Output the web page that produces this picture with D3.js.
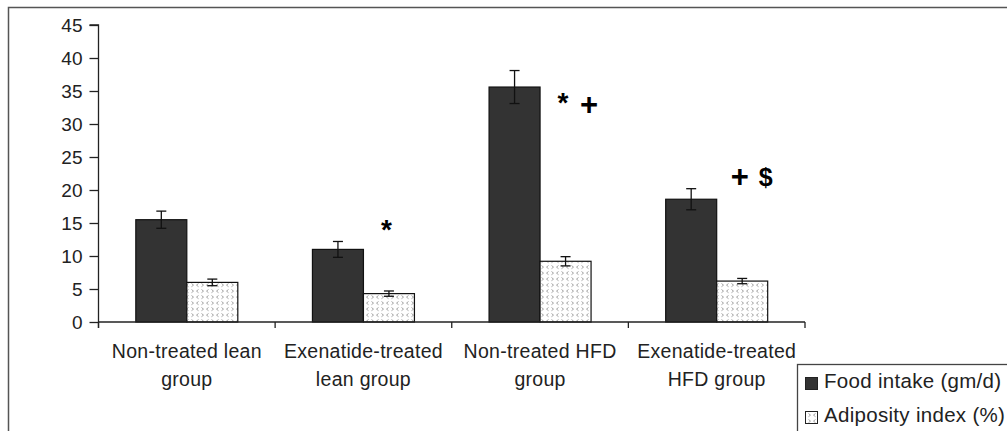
<!DOCTYPE html>
<html>
<head>
<meta charset="utf-8">
<script src="https://cdn.jsdelivr.net/npm/d3@7/dist/d3.min.js"></script>
<style>
  html, body { margin: 0; padding: 0; background: #fff; }
  svg { display: block; font-family: "Liberation Sans", Arial, sans-serif; }
</style>
</head>
<body>
<svg id="chart" width="1007" height="431"></svg>
<script>
// Groups (two-line labels)
const groups = [
  ["Non-treated lean", "group"],
  ["Exenatide-treated", "lean group"],
  ["Non-treated HFD", "group"],
  ["Exenatide-treated", "HFD group"]
];
const seriesNames = ["Food intake (gm/d)", "Adiposity index (%)"];
const foodIntake = [15.5, 11.0, 35.6, 18.6];
const foodIntakeSE = [1.3, 1.2, 2.5, 1.6];
const adiposity = [6.0, 4.3, 9.2, 6.2];
const adipositySE = [0.5, 0.4, 0.7, 0.4];
const yTicks = [0, 5, 10, 15, 20, 25, 30, 35, 40, 45];
// significance marks: group index, symbol, level in data units, slot beside the bars
const marks = [
  { g: 1, text: "*", level: 15.0, slot: 0 },
  { g: 2, text: "*", level: 34.2, slot: 0 },
  { g: 2, text: "+", level: 33.0, slot: 1 },
  { g: 3, text: "+", level: 22.0, slot: 0 },
  { g: 3, text: "$", level: 22.0, slot: 1 }
];

const svg = d3.select("#chart");

// outer frame
svg.append("rect")
  .attr("x", 8.5).attr("y", 7.5)
  .attr("width", 1010).attr("height", 440)
  .attr("fill", "none").attr("stroke", "#555").attr("stroke-width", 1.5);

// chevron fill for the adiposity bars: columns of ">" and "<"
const defs = svg.append("defs");
const pat = defs.append("pattern")
  .attr("id", "chev").attr("patternUnits", "userSpaceOnUse")
  .attr("width", 10).attr("height", 12);
pat.append("rect").attr("width", 10).attr("height", 12).attr("fill", "#fff");
const chev = (cx, cy, dir) => `M${cx},${cy} l${2 * dir},1.6 l${-2 * dir},1.6`;
pat.append("path")
  .attr("d", chev(1.5, 1.5, 1) + chev(8.5, 1.5, -1) + chev(1.5, 7.5, 1) + chev(8.5, 7.5, -1))
  .attr("fill", "none").attr("stroke", "#9a9a9a").attr("stroke-width", 0.9);

const x0 = 98.5, x1 = 805, yTop = 25, yBot = 322;
const x = d3.scaleBand().domain(d3.range(groups.length)).range([x0, x1]);
const y = d3.scaleLinear().domain([0, 45]).range([yBot, yTop]);
const barW = 51;

const series = [
  { vals: foodIntake, se: foodIntakeSE, fill: "#333333", off: -barW },
  { vals: adiposity, se: adipositySE, fill: "url(#chev)", off: 0 }
];

const plot = svg.append("g");

series.forEach(s => {
  const cx = i => x(i) + x.bandwidth() / 2 + s.off;
  plot.selectAll(null).data(s.vals).enter().append("rect")
    .attr("x", (d, i) => cx(i))
    .attr("y", d => y(d))
    .attr("width", barW)
    .attr("height", d => y(0) - y(d))
    .attr("fill", s.fill)
    .attr("stroke", "#111").attr("stroke-width", 1.2);

  // error bars
  const eb = plot.selectAll(null).data(s.vals).enter().append("g")
    .attr("stroke", "#111").attr("stroke-width", 1.3);
  eb.append("line")
    .attr("x1", (d, i) => cx(i) + barW / 2).attr("x2", (d, i) => cx(i) + barW / 2)
    .attr("y1", (d, i) => y(d + s.se[i])).attr("y2", (d, i) => y(d - s.se[i]));
  eb.append("line")
    .attr("x1", (d, i) => cx(i) + barW / 2 - 5).attr("x2", (d, i) => cx(i) + barW / 2 + 5)
    .attr("y1", (d, i) => y(d + s.se[i])).attr("y2", (d, i) => y(d + s.se[i]));
  eb.append("line")
    .attr("x1", (d, i) => cx(i) + barW / 2 - 5).attr("x2", (d, i) => cx(i) + barW / 2 + 5)
    .attr("y1", (d, i) => y(d - s.se[i])).attr("y2", (d, i) => y(d - s.se[i]));
});

// y axis
const yAxis = d3.axisLeft(y).tickValues(yTicks).tickSize(9).tickPadding(7);
const ya = svg.append("g").attr("transform", `translate(${x0},0)`).call(yAxis);
ya.select(".domain").attr("d", `M-9,${yTop}H0V${yBot + 6}`).attr("stroke", "#222").attr("stroke-width", 1.3);
ya.selectAll(".tick line").attr("stroke", "#222").attr("stroke-width", 1.3);
ya.selectAll(".tick text").attr("font-size", 19).attr("fill", "#222")
  .attr("font-family", "Liberation Sans, Arial, sans-serif");

// x axis with ticks on the group boundaries
const xa = svg.append("g");
xa.append("line").attr("x1", x0).attr("x2", x1).attr("y1", yBot).attr("y2", yBot)
  .attr("stroke", "#222").attr("stroke-width", 1.3);
const bounds = d3.range(groups.length + 1).map(i => i < groups.length ? x(i) : x1);
xa.selectAll(null).data(bounds).enter().append("line")
  .attr("x1", d => d).attr("x2", d => d).attr("y1", yBot).attr("y2", yBot + 6)
  .attr("stroke", "#222").attr("stroke-width", 1.3);
const lbl = xa.selectAll(null).data(groups).enter().append("text")
  .attr("text-anchor", "middle").attr("font-size", 19.5).attr("fill", "#222")
  .attr("letter-spacing", 0.3)
  .attr("transform", (d, i) => `translate(${x(i) + x.bandwidth() / 2},0)`);
lbl.append("tspan").attr("x", 0).attr("y", 358).text(d => d[0]);
lbl.append("tspan").attr("x", 0).attr("y", 386).text(d => d[1]);

// significance marks
svg.selectAll(null).data(marks).enter().append("text")
  .attr("x", d => x(d.g) + x.bandwidth() / 2 + 23 + d.slot * 26)
  .attr("y", d => y(d.level))
  .attr("text-anchor", "middle").attr("dominant-baseline", "central")
  .attr("font-weight", "bold")
  .attr("font-size", d => d.text === "*" ? 28 : d.text === "+" ? 31 : 25)
  .attr("dy", d => d.text === "*" ? 6 : 0)
  .attr("fill", "#000")
  .text(d => d.text);

// legend
const lg = svg.append("g").attr("transform", "translate(797,364)");
lg.append("rect").attr("x", 0.5).attr("y", 0.5).attr("width", 260).attr("height", 120)
  .attr("fill", "#fff").attr("stroke", "#444").attr("stroke-width", 1.3);
const fills = ["#333333", "url(#chev)"];
seriesNames.forEach((name, i) => {
  lg.append("rect").attr("x", 8.5).attr("y", 13.5 + i * 34).attr("width", 12).attr("height", 12)
    .attr("fill", fills[i]).attr("stroke", "#222").attr("stroke-width", 1);
  lg.append("text").attr("x", 27).attr("y", 24 + i * 34)
    .attr("font-size", 20.5).attr("fill", "#222").attr("letter-spacing", 0.3).text(name);
});
</script>
</body>
</html>
